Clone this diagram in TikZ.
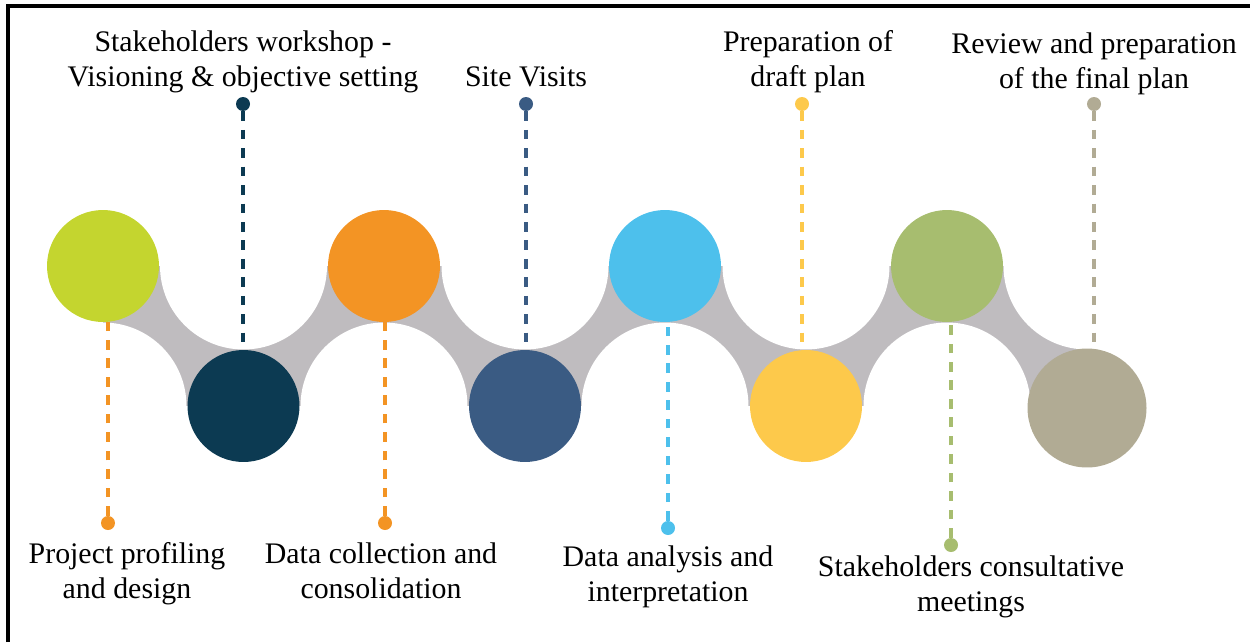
\documentclass[tikz,border=0pt]{standalone}
\usepackage{fontspec}
\setmainfont{Liberation Serif}
\usetikzlibrary{positioning}

\definecolor{plime}{HTML}{C4D52F}
\definecolor{pnavy}{HTML}{0C3A52}
\definecolor{porange}{HTML}{F39424}
\definecolor{psky}{HTML}{4DC0EC}
\definecolor{psteel}{HTML}{3A5B83}
\definecolor{pyellow}{HTML}{FDC94B}
\definecolor{psage}{HTML}{A7BD6F}
\definecolor{ptaupe}{HTML}{B1AB94}
\definecolor{pband}{HTML}{BFBCBF}

\tikzset{
  phase/.style={circle, fill=#1, minimum size=2.24cm, inner sep=0pt},
  tipdot/.style={circle, fill=#1, minimum size=0.28cm, inner sep=0pt},
  leader/.style={draw=#1, dash pattern=on 5.5pt off 5pt, line width=1.8pt},
  steplabel/.style={align=center, inner sep=0pt, font=\fontsize{17}{19.9}\selectfont},
}

\begin{document}
\begin{tikzpicture}[x=0.02cm, y=-0.02cm]
\useasboundingbox (0,0) rectangle (1250,642);
\draw[line width=2.2pt] (8,642) -- (8,6) -- (1250,6);

% grey band with the round cut-outs
\begin{scope}
\clip (103,266) rectangle (1087,406);
\fill[pband] (103,266) rectangle (1087,406);
\foreach \x in {103,384,665,947} \fill[white] (\x,406) circle (1.67cm);
\foreach \x in {243.5,525,806,1087} \fill[white] (\x,266) circle (1.67cm);
\end{scope}

\node[phase=plime] (profiling) at (103,266) {};
\node[phase=pnavy] (workshop) at (243.5,406) {};
\node[phase=porange] (collection) at (384,266) {};
\node[phase=psteel] (visits) at (525,406) {};
\node[phase=psky] (analysis) at (665,266) {};
\node[phase=pyellow] (draft) at (806,406) {};
\node[phase=psage] (meetings) at (947,266) {};
\node[phase=ptaupe, minimum size=2.38cm] (final) at (1087,408) {};

\node[tipdot=porange] (profilingdot) at (108,523) {};
\node[tipdot=pnavy] (workshopdot) at (243,104) {};
\node[tipdot=porange] (collectiondot) at (385,523) {};
\node[tipdot=psteel] (visitsdot) at (526,104) {};
\node[tipdot=psky] (analysisdot) at (668,528) {};
\node[tipdot=pyellow] (draftdot) at (802,104) {};
\node[tipdot=psage] (meetingsdot) at (951,545) {};
\node[tipdot=ptaupe] (finaldot) at (1094,104) {};

\draw[leader=porange] (profilingdot) -- (profilingdot |- profiling.south);
\draw[leader=pnavy] (workshopdot) -- (workshopdot |- workshop.north);
\draw[leader=porange] (collectiondot) -- (collectiondot |- collection.south);
\draw[leader=psteel] (visitsdot) -- (visitsdot |- visits.north);
\draw[leader=psky] (analysisdot) -- (analysisdot |- analysis.south);
\draw[leader=pyellow] (draftdot) -- (draftdot |- draft.north);
\draw[leader=psage] (meetingsdot) -- (meetingsdot |- meetings.south);
\draw[leader=ptaupe] (finaldot) -- (finaldot |- final.north);

\node[steplabel, below of=profilingdot, anchor=north, node distance=3.9mm, xshift=3.8mm] {Project profiling\\ and design};
\node[steplabel, above of=workshopdot, anchor=south, node distance=2.1mm] {Stakeholders workshop -\\ Visioning \& objective setting};
\node[steplabel, below of=collectiondot, anchor=north, node distance=3.9mm, xshift=-0.8mm] {Data collection and\\ consolidation};
\node[steplabel, above of=visitsdot, anchor=south, node distance=3.4mm] {Site Visits};
\node[steplabel, below of=analysisdot, anchor=north, node distance=3.5mm] {Data analysis and\\ interpretation};
\node[steplabel, above of=draftdot, anchor=south, node distance=2.1mm, xshift=1.2mm] {Preparation of\\ draft plan};
\node[steplabel, below of=meetingsdot, anchor=north, node distance=2.1mm, xshift=4mm] {Stakeholders consultative\\ meetings};
\node[steplabel, above of=finaldot, anchor=south, node distance=1.7mm] {Review and preparation\\ of the final plan};
\end{tikzpicture}
\end{document}
